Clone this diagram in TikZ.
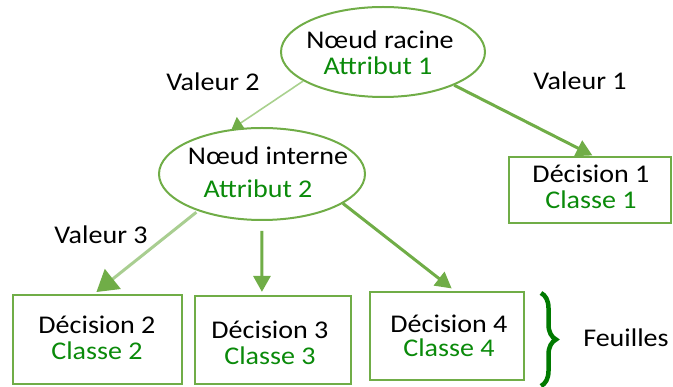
\documentclass[tikz,border=0pt]{standalone}
\usepackage{fontspec}
\setmainfont{Carlito}[FakeStretch=1.1]
\usetikzlibrary{arrows.meta,shapes.geometric,decorations.pathreplacing,calc}
\definecolor{gborder}{HTML}{70AD47}
\definecolor{glight}{HTML}{A9D18E}
\definecolor{gtext}{HTML}{0A8A0A}
\definecolor{gbrace}{HTML}{007A00}
\begin{document}
\begin{tikzpicture}[x=1pt,y=-1pt,
  font=\fontsize{25.5}{30}\selectfont,
  ell/.style={ellipse, draw=gborder, line width=2pt, inner sep=0pt},
  box/.style={rectangle, draw=gborder, line width=2.2pt, inner sep=0pt},
  txt/.style={anchor=base, inner sep=0pt, text=black},
  cls/.style={txt, text=gtext},
  arr/.style={draw=gborder, line width=3pt, -{Triangle[length=16pt,width=17pt]}},
  thinarr/.style={draw=glight, line width=1.6pt, -{Triangle[length=11pt,width=14pt,color=gborder,fill=gborder]}},
  fadearr/.style={draw=gborder!60, line width=3pt, -{Triangle[length=21pt,width=25pt,color=gborder,fill=gborder]}}
]
\useasboundingbox (0,0) rectangle (673,387);

% shapes
\node[ell, minimum width=204pt, minimum height=90pt] (root) at (383,52) {};
\node[ell, minimum width=206pt, minimum height=92pt] (int) at (262,174) {};
\node[box, minimum width=162pt, minimum height=66pt] (dec1) at (590,190) {};
\node[box, minimum width=169pt, minimum height=89pt] (dec2) at (97.5,339.5) {};
\node[box, minimum width=156pt, minimum height=88pt] (dec3) at (273,340) {};
\node[box, minimum width=154pt, minimum height=88pt] (dec4) at (447,336) {};

% texts
\node[txt] (t1) at (380,49) {Nœud racine};
\node[cls] (c1) at (378,75) {Attribut 1};
\node[txt] (t2) at (268,165) {Nœud interne};
\node[cls] (c2) at (258,198) {Attribut 2};
\node[txt] (d1) at (591,183) {Décision 1};
\node[cls] (k1) at (591,209) {Classe 1};
\node[txt] (d2) at (97,334) {Décision 2};
\node[cls] (k2) at (97,360) {Classe 2};
\node[txt] (d3) at (270,339) {Décision 3};
\node[cls] (k3) at (270,365) {Classe 3};
\node[txt] (d4) at (449,333) {Décision 4};
\node[cls] (k4) at (449,357) {Classe 4};

\node[txt] (v2) at (213,91) {Valeur 2};
\node[txt] (v1) at (580,90) {Valeur 1};
\node[txt] (v3) at (101,244) {Valeur 3};
\node[txt] (feu) at (626,347) {Feuilles};

% connectors
\draw[thinarr] (root.200) -- (int.124);
\draw[arr, shorten >=1pt] (root.-25) -- ($(dec1.north west)!0.52!(dec1.north east)$);
\draw[fadearr, shorten <=2pt, shorten >=3pt] (int.210) -- ($(dec2.north west)!0.48!(dec2.north east)$);
\draw[arr, shorten <=10pt, shorten >=3pt] (int.south) -- ($(dec3.north west)!0.43!(dec3.north east)$);
\draw[arr, shorten >=4pt] (int.-20) -- ($(dec4.north west)!0.55!(dec4.north east)$);

% brace
\coordinate (bt) at (541,293);
\coordinate (bb) at (541,386);
\draw[gbrace, line width=4.5pt, decorate, decoration={brace, amplitude=15pt}] (bt) -- (bb);
\end{tikzpicture}
\end{document}
